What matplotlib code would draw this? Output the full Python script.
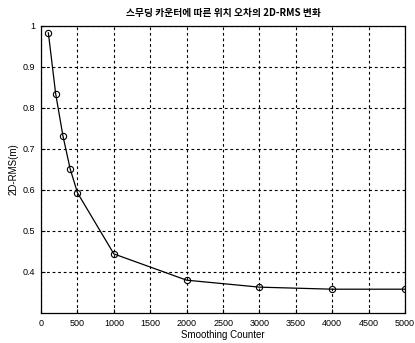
import matplotlib
matplotlib.use("Agg")
import matplotlib.pyplot as plt

counters = [100, 200, 300, 400, 500, 1000, 2000, 3000, 4000, 5000]
rms_2d = [0.983, 0.835, 0.732, 0.651, 0.593, 0.444, 0.380, 0.363, 0.358, 0.358]
xticks = [0, 500, 1000, 1500, 2000, 2500, 3000, 3500, 4000, 4500, 5000]
yticks = [0.4, 0.5, 0.6, 0.7, 0.8, 0.9, 1.0]
ytick_labels = ["0.4", "0.5", "0.6", "0.7", "0.8", "0.9", "1"]
title = "스무딩 카운터에 따른 위치 오차의 2D-RMS 변화"

plt.rcParams['font.family'] = ['Liberation Sans', 'Noto Sans CJK KR', 'DejaVu Sans']

fig = plt.figure(figsize=(4.15, 3.43), dpi=100)
ax = fig.add_axes([0.099, 0.0875, 0.877, 0.837])
ax.plot(counters, rms_2d, color='black', linewidth=0.9, marker='o',
        markersize=4.5, markerfacecolor='none', markeredgecolor='black',
        markeredgewidth=0.8)
ax.set_xlim(0, 5000)
ax.set_ylim(0.3, 1.0)
ax.set_xticks(xticks)
ax.set_xticklabels([str(v) for v in xticks])
ax.set_yticks(yticks)
ax.set_yticklabels(ytick_labels)
ax.grid(True, color='black', linestyle=(0, (2.5, 2.5)), linewidth=0.8)
ax.tick_params(direction='in', labelsize=6.5, length=3, width=0.8, pad=4)
for s in ax.spines.values():
    s.set_linewidth(0.9)
ax.set_xlabel("Smoothing Counter", fontsize=7, labelpad=2)
ax.set_ylabel("2D-RMS(m)", fontsize=7, labelpad=3)
ax.set_title(title, fontsize=7, pad=7, fontweight='bold',
             family=['Noto Sans CJK KR', 'DejaVu Sans'])
fig.savefig("out.png", dpi=100)
